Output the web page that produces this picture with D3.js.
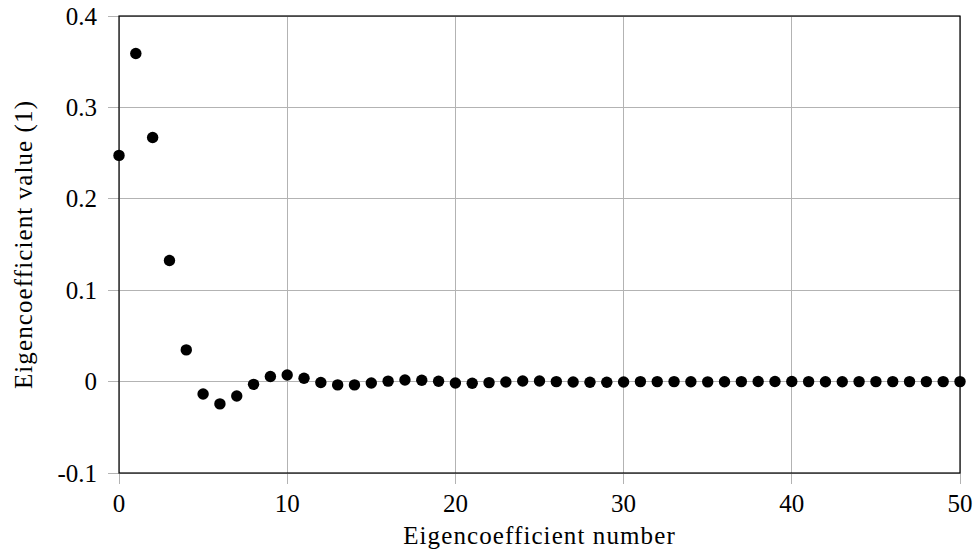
<!DOCTYPE html>
<html><head><meta charset="utf-8">
<script src="https://cdn.jsdelivr.net/npm/d3@7"></script>
<style>body{margin:0;background:#fff}svg{display:block}text{font-family:"Liberation Serif","DejaVu Serif",serif;fill:#000}</style>
</head><body>
<script>
const coeffIndex = d3.range(0, 51);
const coeffValues = [0.2475,0.359,0.267,0.1325,0.0347,-0.0135,-0.0244,-0.0157,-0.003,0.0055,
0.0073,0.0036,-0.001,-0.0036,-0.0036,-0.0015,0.0005,0.0018,0.0015,0.0004,
-0.0015,-0.0018,-0.0011,-0.0004,0.0007,0.0007,0.0,-0.0004,-0.0007,-0.0007,
-0.0004,0.0,0.0,0.0,-0.0002,-0.0003,-0.0002,0.0,0.0001,0.0001,
0.0001,0.0,-0.0001,-0.0001,0.0,0.0,0.0,0.0,0.0,0.0,0.0];
const xTicks = [0,10,20,30,40,50];
const yTicks = [-0.1,0,0.1,0.2,0.3,0.4];
const yTickLabels = ["-0.1","0","0.1","0.2","0.3","0.4"];
const xLabel = "Eigencoefficient number";
const yLabel = "Eigencoefficient value (1)";

const W=977,H=554;
const m={l:119,r:17,t:16,b:81};
const svg=d3.select("body").append("svg").attr("width",W).attr("height",H);
const x=d3.scaleLinear().domain([0,50]).range([m.l,W-m.r]);
const y=d3.scaleLinear().domain([-0.1,0.4]).range([H-m.b,m.t]);

const g=svg.append("g");
g.selectAll(".gx").data(xTicks).join("line")
 .attr("x1",d=>x(d)).attr("x2",d=>x(d)).attr("y1",m.t).attr("y2",H-m.b+11)
 .attr("stroke","#b3b3b3").attr("stroke-width",1).attr("shape-rendering","crispEdges");
g.selectAll(".gy").data(yTicks).join("line")
 .attr("y1",d=>y(d)).attr("y2",d=>y(d)).attr("x1",m.l-11).attr("x2",W-m.r)
 .attr("stroke","#b3b3b3").attr("stroke-width",1).attr("shape-rendering","crispEdges");
svg.append("rect").attr("x",m.l).attr("y",m.t).attr("width",W-m.l-m.r).attr("height",H-m.t-m.b)
 .attr("fill","none").attr("stroke","#000").attr("stroke-width",1.2);
svg.selectAll(".xl").data(xTicks).join("text")
 .attr("x",d=>x(d)).attr("y",512).attr("text-anchor","middle").attr("font-size",25).text(d=>d);
svg.selectAll(".yl").data(yTicks).join("text")
 .attr("x",97).attr("y",d=>y(d)+8.5).attr("text-anchor","end").attr("font-size",25).text((d,i)=>yTickLabels[i]);
svg.append("text").attr("x",(m.l+W-m.r)/2).attr("y",544).attr("text-anchor","middle").attr("font-size",25).attr("letter-spacing",1.1).text(xLabel);
svg.append("text").attr("transform",`translate(32,${(m.t+H-m.b)/2}) rotate(-90)`).attr("text-anchor","middle").attr("font-size",25).attr("letter-spacing",1.1).text(yLabel);
svg.selectAll(".pt").data(coeffIndex).join("circle")
 .attr("cx",d=>x(d)).attr("cy",d=>y(coeffValues[d])).attr("r",5.7).attr("fill","#000");
</script>
</body></html>
